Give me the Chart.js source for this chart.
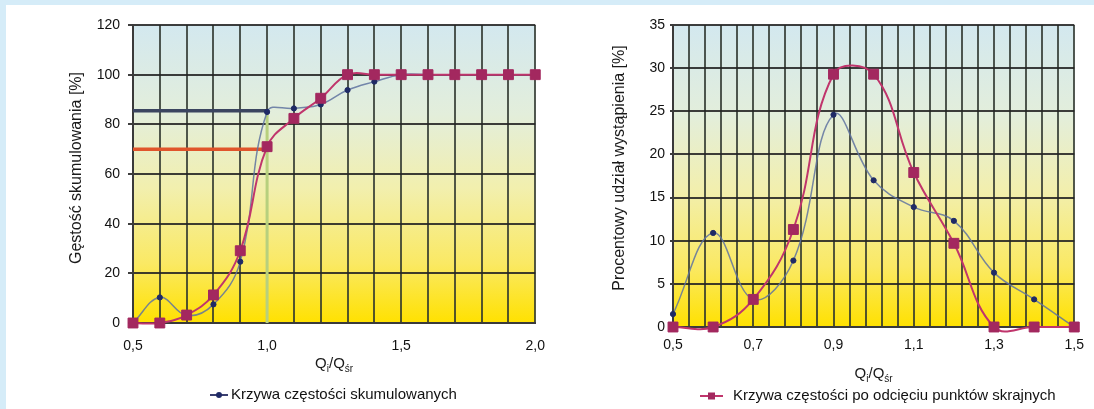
<!DOCTYPE html>
<html><head><meta charset="utf-8">
<script src="https://cdn.jsdelivr.net/npm/chart.js@4.4.1/dist/chart.umd.min.js"></script>
<style>
html,body{margin:0;padding:0;}
body{width:1094px;height:409px;background:#d5ecf8;position:relative;overflow:hidden;}
#panel{position:absolute;left:6px;top:5px;width:1088px;height:404px;background:#fff;}
canvas{position:absolute;top:0;}
#c1{left:0}
#c2{left:560px}
</style></head><body>
<div id="panel"></div>
<canvas id="c1" width="560" height="409"></canvas>
<canvas id="c2" width="534" height="409"></canvas>
<script>
// ---- data ----
const leftX = [0.5,0.6,0.7,0.8,0.9,1.0,1.1,1.2,1.3,1.4,1.5,1.6,1.7,1.8,1.9,2.0];
const leftCumulative = [0,10.3,3,7.5,24.7,85,86.4,88,93.8,97.2,100,100,100,100,100,100];
const leftCutoff = [0,0,3.2,11.3,29.1,71,82.4,90.5,100,100,100,100,100,100,100,100];
const rightX = [0.5,0.6,0.7,0.8,0.9,1.0,1.1,1.2,1.3,1.4,1.5];
const rightFreq = [1.5,10.9,3.2,7.7,24.6,17,13.9,12.3,6.3,3.2,0];
const rightCutoff = [0,0,3.2,11.3,29.3,29.3,17.9,9.7,0,0,0];
const refStartX = 0.5, refX = 1.0;
const refHighY = 85.5, refLowY = 70, refVertTop = 84;
const labelBlue = 'Krzywa częstości skumulowanych';
const labelPink = 'Krzywa częstości po odcięciu punktów skrajnych';
const leftYTitle = 'Gęstość skumulowania [%]';
const rightYTitle = 'Procentowy udział wystąpienia [%]';

const pts = (xs, ys) => xs.map((x,i)=>({x, y: ys[i]}));

Chart.defaults.font.family = '"Liberation Sans", Arial, sans-serif';
Chart.defaults.color = '#111';

const BLUE_LINE = 'rgba(95,115,160,0.85)';
const BLUE_PT = '#1f2a66';
const PINK_LINE = '#c0356c';
const PINK_PT = '#a3285f';
const GRID_H = 'rgba(35,35,35,0.88)';
const GRID_V = 'rgba(45,52,45,0.82)';

const bgPlugin = {
  id: 'plotBg',
  beforeDraw(chart){
    const {ctx, chartArea:a} = chart;
    const g = ctx.createLinearGradient(0, a.top, 0, a.bottom);
    g.addColorStop(0, '#d3e8ef');
    g.addColorStop(0.3, '#e3eedb');
    g.addColorStop(0.55, '#f2efad');
    g.addColorStop(0.8, '#fae964');
    g.addColorStop(1, '#ffe100');
    ctx.save();
    ctx.fillStyle = g;
    ctx.fillRect(a.left, a.top, a.right - a.left, a.bottom - a.top);
    ctx.restore();
  }
};

const textPlugin = {
  id: 'extraText',
  afterDraw(chart, args, o){
    const {ctx, chartArea:a} = chart;
    ctx.save();
    // y title
    ctx.fillStyle = '#1a1a1a';
    ctx.font = '16px "Liberation Sans", Arial, sans-serif';
    ctx.translate(o.yTitleX, o.yTitleY);
    ctx.rotate(-Math.PI/2);
    ctx.textAlign = 'center';
    ctx.textBaseline = 'middle';
    ctx.fillText(o.yTitle, 0, 0);
    ctx.setTransform(1,0,0,1,0,0);
    // x title Qi/Qśr
    const parts = [['Q',15,0],['i',10,4],['/Q',15,0],['śr',10,4]];
    let w = 0;
    parts.forEach(p=>{ ctx.font = p[1]+'px "Liberation Sans", Arial, sans-serif'; w += ctx.measureText(p[0]).width; });
    let x = (a.left + a.right)/2 - w/2;
    ctx.textAlign = 'left';
    ctx.textBaseline = 'alphabetic';
    parts.forEach(p=>{
      ctx.font = p[1]+'px "Liberation Sans", Arial, sans-serif';
      ctx.fillText(p[0], x, o.xTitleY + 5 + p[2]);
      x += ctx.measureText(p[0]).width;
    });
    // legend
    const L = o.legend;
    ctx.strokeStyle = L.color;
    ctx.lineWidth = 2;
    ctx.beginPath(); ctx.moveTo(L.x1, L.y); ctx.lineTo(L.x2, L.y); ctx.stroke();
    const cx = (L.x1 + L.x2)/2;
    ctx.fillStyle = L.markColor;
    if (L.mark === 'circle'){ ctx.beginPath(); ctx.arc(cx, L.y, 3, 0, Math.PI*2); ctx.fill(); }
    else { ctx.fillRect(cx-3.5, L.y-3.5, 7, 7); }
    ctx.fillStyle = '#111';
    ctx.font = '15px "Liberation Sans", Arial, sans-serif';
    ctx.textBaseline = 'middle';
    ctx.fillText(L.text, L.tx, L.y);
    ctx.restore();
  }
};

function lineDs(label, data, color, width, ptStyle, ptR, ptColor, extra){
  return Object.assign({
    label, data, borderColor: color, borderWidth: width, tension: 0.4,
    pointStyle: ptStyle, pointRadius: ptR, pointBackgroundColor: ptColor,
    pointBorderColor: ptColor, pointBorderWidth: 1, capBezierPoints: false,
    clip: 8, fill: false
  }, extra || {});
}

function refDs(data, color, width){
  return {label:'ref', data, borderColor: color, borderWidth: width, pointRadius: 0, tension: 0, fill:false, clip: 8};
}

// ---- left chart ----
new Chart(document.getElementById('c1'), {
  type: 'line',
  data: {
    datasets: [
      lineDs(labelPink, pts(leftX, leftCutoff), PINK_LINE, 2, 'rect', 7, PINK_PT),
      lineDs(labelBlue, pts(leftX, leftCumulative), BLUE_LINE, 1.5, 'circle', 2.6, BLUE_PT),
      refDs([{x:refX,y:0},{x:refX,y:refVertTop}], '#b7d07e', 3),
      refDs([{x:refStartX,y:refHighY},{x:refX,y:refHighY}], '#3b4560', 3.5),
      refDs([{x:refStartX,y:refLowY},{x:refX,y:refLowY}], '#e0552b', 3.5)
    ]
  },
  options: {
    responsive: false, animation: false, devicePixelRatio: 1, events: [],
    layout: {padding: {left: 93, top: 25, right: 23, bottom: 56}},
    plugins: {
      legend: {display: false}, tooltip: {enabled: false},
      extraText: {
        yTitle: leftYTitle, yTitleX: 77, yTitleY: 168, xTitleY: 363,
        legend: {x1: 210, x2: 228, y: 395, color: '#3a3f70', mark: 'circle', markColor: BLUE_PT, text: labelBlue, tx: 231}
      }
    },
    scales: {
      x: {
        type: 'linear', min: 0.5, max: 2.0,
        afterFit(s){ s.height = 30; },
        ticks: {stepSize: 0.1, autoSkip: false, maxRotation: 0, minRotation: 0, padding: 15, font: {size: 14},
          callback(v){ const k = Math.round(v*10); return (k % 5 === 0) ? (k/10).toFixed(1).replace('.', ',') : ''; }},
        grid: {color: GRID_V, lineWidth: 2, drawTicks: false},
        border: {display: true, color: '#3a3a3a', width: 2}
      },
      y: {
        min: 0, max: 120,
        afterFit(s){ s.width = 40; },
        ticks: {stepSize: 20, padding: 8, font: {size: 14}},
        grid: {color: GRID_H, lineWidth: 2, tickLength: 5},
        border: {display: true, color: '#3a3a3a', width: 2}
      }
    }
  },
  plugins: [bgPlugin, textPlugin]
});

// ---- right chart ----
new Chart(document.getElementById('c2'), {
  type: 'line',
  data: {
    datasets: [
      lineDs(labelPink, pts(rightX, rightCutoff), PINK_LINE, 2, 'rect', 7, PINK_PT),
      lineDs(labelBlue, pts(rightX, rightFreq), BLUE_LINE, 1.5, 'circle', 2.6, BLUE_PT)
    ]
  },
  options: {
    responsive: false, animation: false, devicePixelRatio: 1, events: [],
    layout: {padding: {left: 73, top: 25, right: 12, bottom: 52}},
    plugins: {
      legend: {display: false}, tooltip: {enabled: false},
      extraText: {
        yTitle: rightYTitle, yTitleX: 60, yTitleY: 168, xTitleY: 373,
        legend: {x1: 140, x2: 163, y: 396, color: PINK_LINE, mark: 'rect', markColor: PINK_PT, text: labelPink, tx: 173}
      }
    },
    scales: {
      x: {
        type: 'linear', min: 0.5, max: 1.5,
        afterFit(s){ s.height = 30; },
        ticks: {stepSize: 0.04, autoSkip: false, maxRotation: 0, minRotation: 0, padding: 10, font: {size: 14},
          callback(v){ const k = (v - 0.5) / 0.2; return Math.abs(k - Math.round(k)) < 1e-6 ? v.toFixed(1).replace('.', ',') : ''; }},
        grid: {color: GRID_V, lineWidth: 2, drawTicks: false},
        border: {display: true, color: '#3a3a3a', width: 2}
      },
      y: {
        min: 0, max: 35,
        afterFit(s){ s.width = 40; },
        ticks: {stepSize: 5, padding: 5, font: {size: 14}},
        grid: {color: GRID_H, lineWidth: 2, tickLength: 3},
        border: {display: true, color: '#3a3a3a', width: 2}
      }
    }
  },
  plugins: [bgPlugin, textPlugin]
});
</script>
</body></html>
